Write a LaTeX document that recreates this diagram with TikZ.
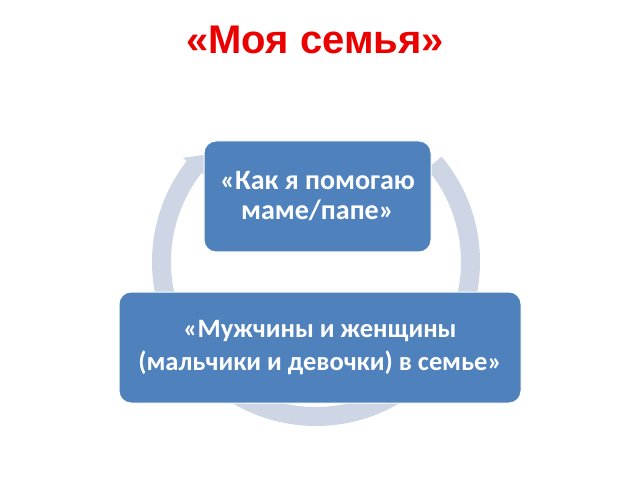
\documentclass[tikz,border=0pt]{standalone}
\usepackage{fontspec}
\setmainfont{Carlito}
\newfontfamily\titlefont{Liberation Sans}
\definecolor{boxblue}{RGB}{79,129,189}
\definecolor{ringblue}{RGB}{206,213,229}
\definecolor{titlered}{RGB}{235,0,0}
\begin{document}
\begin{tikzpicture}[x=1pt,y=1pt,
  stepbox/.style={draw=white,line width=1pt,fill=boxblue,rounded corners=12pt,
    text=white,align=center,inner sep=0pt},
  ringstyle/.style={fill=ringblue,draw=none}]
\useasboundingbox[fill=white] (0,0) rectangle (640,480);
\node[font=\titlefont\bfseries\fontsize{40}{44}\selectfont,text=titlered] (title) at (315,440) {«Моя семья»};
\coordinate (c) at (316,218);
% ring arrow (clockwise)
\fill[ringstyle] ([shift={(c)}]40:164) arc[start angle=40,end angle=-218,radius=164]
  -- ([shift={(c)}]142:169) -- ([shift={(c)}]136:154.5) -- ([shift={(c)}]142:140)
  -- ([shift={(c)}]142:145) arc[start angle=-218,end angle=40,radius=145] -- cycle;
\node[stepbox,minimum width=227pt,minimum height=111pt,font=\bfseries\fontsize{28}{30}\selectfont] (top) at (317.5,283.5) {«Как я помогаю\\маме/папе»};
\node[stepbox,minimum width=402pt,minimum height=111pt,font=\bfseries\fontsize{26.5}{33}\selectfont] (bottom) at (320,132.5) {«Мужчины и женщины\\(мальчики и девочки) в семье»};
\end{tikzpicture}
\end{document}
